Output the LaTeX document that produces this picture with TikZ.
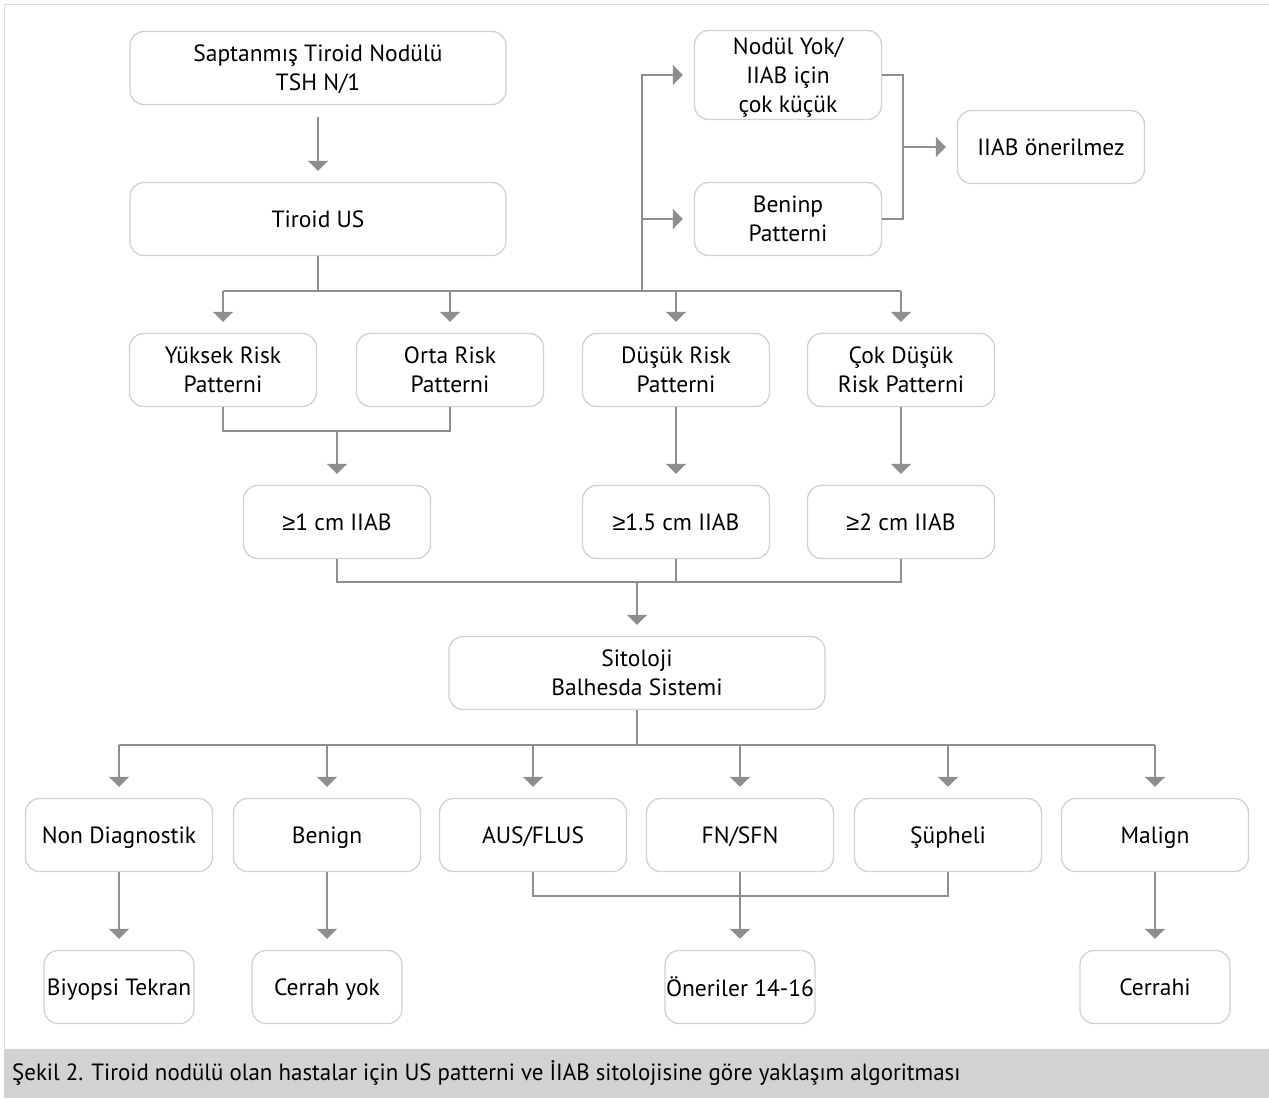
\documentclass[tikz,border=0pt]{standalone}
\usepackage{fontspec}
\setmainfont{PT Sans}
\newfontfamily\capfont[FakeStretch=0.975]{PT Sans}
\newfontfamily\symfont{Liberation Sans}
\usetikzlibrary{arrows.meta}
\definecolor{linegray}{HTML}{8E8E8F}
\definecolor{boxgray}{HTML}{D2D2D2}
\definecolor{capgray}{HTML}{D1D2D4}
\definecolor{framegray}{HTML}{DCDCDC}
\newcommand{\gesym}{{\symfont ≥}}
\begin{document}
\begin{tikzpicture}[x=1pt,y=-1pt,
 box/.style={draw=boxgray, line width=1.3pt, rounded corners=14pt, align=center, inner sep=0pt, font=\fontsize{23.5}{29}\selectfont, text=black, text depth=0pt},
 wide/.style={box, minimum width=376pt, minimum height=73pt},
 std/.style={box, minimum width=187pt, minimum height=73pt},
 small/.style={box, minimum width=150pt, minimum height=73pt},
 conn/.style={draw=linegray, line width=1.6pt},
 arr/.style={conn, -{Triangle[width=20pt,length=10pt]}, shorten >=11pt}
]
\useasboundingbox (0,0) rectangle (1269,1098);
\fill[white] (0,0) rectangle (1269,1098);
\draw[framegray, line width=1.2pt] (1269,4.5) -- (4.5,4.5) -- (4.5,1049);
\fill[capgray] (4,1049) rectangle (1269,1098);
\node[anchor=west, inner sep=0pt, font=\capfont\fontsize{23.5}{26}\selectfont] (cap) at (12,1073) {Şekil 2. Tiroid nodülü olan hastalar için US patterni ve İIAB sitolojisine göre yaklaşım algoritması};

% nodes
\node[wide] (sap) at (318,68) {Saptanmış Tiroid Nodülü\\TSH N/1};
\node[wide] (tus) at (318,219) {Tiroid US};
\node[std, minimum height=89pt] (nod) at (788,75) {Nodül Yok/\\IIAB için\\çok küçük};
\node[std] (ben) at (788,219) {Beninp\\Patterni};
\node[std] (onr) at (1051,147) {IIAB önerilmez};
\node[std] (yuk) at (223,370) {Yüksek Risk\\Patterni};
\node[std] (orta) at (450,370) {Orta Risk\\Patterni};
\node[std] (dus) at (676,370) {Düşük Risk\\Patterni};
\node[std] (cok) at (901,370) {Çok Düşük\\Risk Patterni};
\node[std] (g1) at (337,522) {\gesym1 cm IIAB};
\node[std] (g2) at (676,522) {\gesym1.5 cm IIAB};
\node[std] (g3) at (901,522) {\gesym2 cm IIAB};
\node[wide] (sit) at (637,673) {Sitoloji\\Balhesda Sistemi};
\node[std] (nd) at (119,835) {Non Diagnostik};
\node[std] (bn) at (327,835) {Benign};
\node[std] (aus) at (533,835) {AUS/FLUS};
\node[std] (fn) at (740,835) {FN/SFN};
\node[std] (sup) at (948,835) {Şüpheli};
\node[std] (mal) at (1155,835) {Malign};
\node[small] (bt) at (119,987) {Biyopsi Tekran};
\node[small] (cy) at (327,987) {Cerrah yok};
\node[small] (on) at (740,987) {Öneriler 14-16};
\node[small] (cr) at (1155,987) {Cerrahi};

% helper levels
\coordinate (h1) at (0,291);
\coordinate (vx) at (642,291);
\coordinate (jr) at (903,147);
\coordinate (h2) at (0,431);
\coordinate (h3) at (0,582);
\coordinate (h4) at (0,745);
\coordinate (h5) at (0,896);

% connectors
\draw[arr, shorten <=12pt] (sap) -- (tus);
\draw[conn] (tus.south) -- (tus |- h1);
\draw[conn] (yuk |- h1) -- (cok |- h1);
\foreach \n in {yuk,orta,dus,cok} \draw[arr] (\n |- h1) -- (\n);
\draw[conn] (vx) -- (vx |- ben);
\draw[arr] (vx) |- (nod);
\draw[arr] (vx |- ben) -- (ben);
\draw[conn] (nod.east) -| (jr) |- (ben.east);
\draw[arr] (jr) -- (onr);

\draw[conn] (yuk.south) |- (orta |- h2) -- (orta.south);
\draw[arr] (g1 |- h2) -- (g1);
\draw[arr] (dus) -- (g2);
\draw[arr] (cok) -- (g3);

\draw[conn] (g1.south) |- (g3 |- h3) -- (g3.south);
\draw[conn] (g2.south) -- (g2 |- h3);
\draw[arr] (sit |- h3) -- (sit);

\draw[conn] (sit.south) -- (sit |- h4);
\draw[conn] (nd |- h4) -- (mal |- h4);
\foreach \n in {nd,bn,aus,fn,sup,mal} \draw[arr] (\n |- h4) -- (\n);

\draw[conn] (aus.south) |- (sup |- h5) -- (sup.south);
\draw[arr] (fn.south) -- (on);
\draw[arr] (nd) -- (bt);
\draw[arr] (bn) -- (cy);
\draw[arr] (mal) -- (cr);
\end{tikzpicture}
\end{document}
